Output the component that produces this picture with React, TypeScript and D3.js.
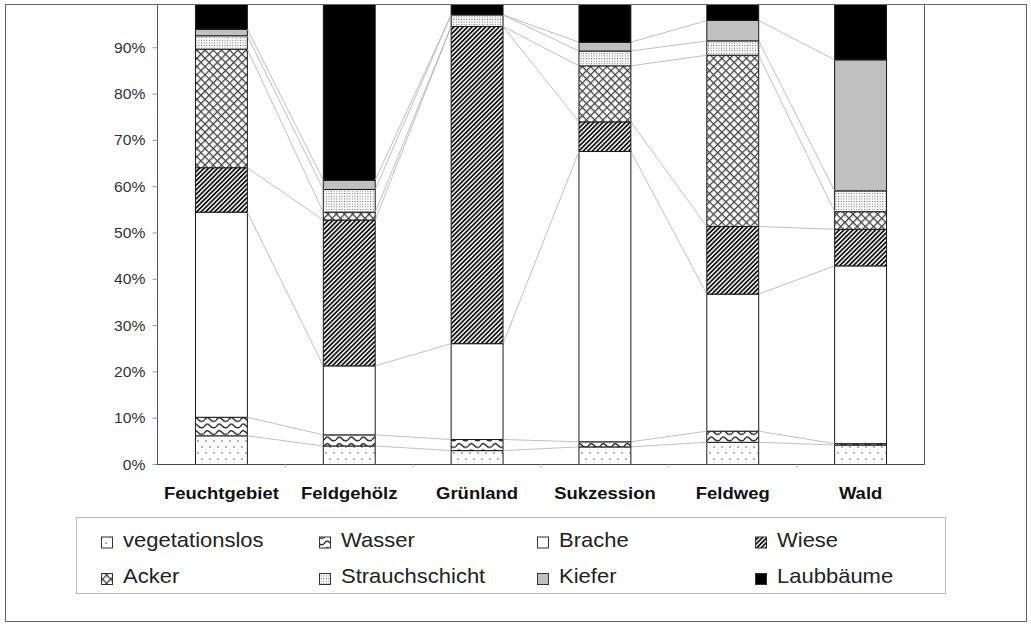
import React from 'react';
import * as d3 from 'd3';

// Land-use shares per habitat type (percent, each column sums to 100)
const categories = ['Feuchtgebiet', 'Feldgehölz', 'Grünland', 'Sukzession', 'Feldweg', 'Wald'];
const seriesNames = ['vegetationslos', 'Wasser', 'Brache', 'Wiese', 'Acker', 'Strauchschicht', 'Kiefer', 'Laubbäume'];
const vegetationslos = [6.2, 4.0, 3.0, 3.8, 4.8, 4.2];
const wasser = [4.0, 2.4, 2.4, 1.1, 2.4, 0.3];
const brache = [44.3, 14.9, 20.7, 62.7, 29.6, 38.4];
const wiese = [9.6, 31.5, 68.5, 6.4, 14.6, 7.9];
const acker = [25.6, 1.7, 0, 12.1, 37.0, 3.8];
const strauchschicht = [2.9, 4.9, 2.5, 3.2, 3.1, 4.5];
const kiefer = [1.4, 2.0, 0, 1.9, 4.4, 28.3];
const laubbaeume = [6.0, 38.6, 2.9, 8.8, 4.1, 12.6];
const yTicks = [0, 10, 20, 30, 40, 50, 60, 70, 80, 90];

const seriesValues = [vegetationslos, wasser, brache, wiese, acker, strauchschicht, kiefer, laubbaeume];
const fills = [
  'url(#p-veg)', 'url(#p-wasser)', '#ffffff', 'url(#p-wiese)',
  'url(#p-acker)', 'url(#p-strauch)', '#c0c0c0', '#000000',
];

const W = 1031;
const H = 625;
const plot = { left: 157.5, right: 924.5, top: 5, bottom: 464.5 };
const SX = 1.12; // horizontal text stretch

export default function App() {
  const rows = categories.map((c, i) => {
    const r: Record<string, number | string> = { cat: c };
    seriesNames.forEach((s, j) => { r[s] = seriesValues[j][i]; });
    return r;
  });
  const stacked = d3.stack<any>().keys(seriesNames)(rows);

  const x = d3.scaleBand().domain(categories).range([plot.left, plot.right]).paddingInner(0.594).paddingOuter(0.297);
  const y = d3.scaleLinear().domain([0, 100]).range([plot.bottom, 1.5]);
  const bw = x.bandwidth();
  const step = x.step();

  const legendCols = [101, 319, 537, 755];
  const legendRows = [546.5, 583];

  return (
    <svg width={W} height={H} style={{ position: 'absolute', left: 0, top: 0, display: 'block', background: '#fff' }}
      fontFamily="'Liberation Sans', Arial, sans-serif">
      <defs>
        <pattern id="p-veg" patternUnits="userSpaceOnUse" width={8} height={12}>
          <rect width={8} height={12} fill="#fff" />
          <circle cx={2} cy={3} r={0.75} fill="#444" />
          <circle cx={6} cy={9} r={0.75} fill="#444" />
        </pattern>
        <pattern id="p-wasser" patternUnits="userSpaceOnUse" width={12} height={6.5}>
          <rect width={12} height={6.5} fill="#fff" />
          <path d="M0,4.5 C2,0.8 4,0.8 6,3.2 C8,5.8 10,5.8 12,4.5" fill="none" stroke="#222" strokeWidth={1.4} />
        </pattern>
        <pattern id="p-wiese" patternUnits="userSpaceOnUse" width={3.2} height={3.2} patternTransform="rotate(45)">
          <rect width={3.2} height={3.2} fill="#fff" />
          <rect width={1.75} height={3.2} fill="#111" />
        </pattern>
        <pattern id="p-acker" patternUnits="userSpaceOnUse" width={5.8} height={5.8} patternTransform="rotate(45)">
          <rect width={5.8} height={5.8} fill="#fff" />
          <rect width={1.3} height={5.8} fill="#444" />
          <rect width={5.8} height={1.3} fill="#444" />
        </pattern>
        <pattern id="p-strauch" patternUnits="userSpaceOnUse" width={2.6} height={2.6}>
          <rect width={2.6} height={2.6} fill="#fff" />
          <rect x={0.8} y={0.8} width={1.1} height={1.1} fill="#777" />
        </pattern>
        <clipPath id="plot-clip">
          <rect x={plot.left} y={plot.top} width={plot.right - plot.left} height={plot.bottom - plot.top + 1} />
        </clipPath>
      </defs>

      {/* outer frame */}
      <rect x={5.5} y={4.5} width={1021} height={617} fill="none" stroke="#666" strokeWidth={1} />

      {/* plot area border (right side) */}
      <line x1={plot.right} x2={plot.right} y1={plot.top} y2={plot.bottom} stroke="#555" strokeWidth={1} />

      <g clipPath="url(#plot-clip)">
        {/* stacked bars */}
        {stacked.map((layer, si) => (
          <g key={seriesNames[si]}>
            {layer.map((d, ci) => {
              const y0 = y(d[0]);
              const y1 = y(d[1]);
              if (Math.abs(y0 - y1) < 0.01) return null;
              return (
                <rect key={ci} x={x(categories[ci])!} y={y1} width={bw} height={y0 - y1}
                  fill={fills[si]} stroke="#1a1a1a" strokeWidth={1} />
              );
            })}
          </g>
        ))}
        {/* series lines between neighbouring columns */}
        {stacked.map((layer, si) => (
          <g key={'sl' + si}>
            {layer.slice(0, -1).map((d, ci) => (
              <line key={ci}
                x1={x(categories[ci])! + bw} y1={y(d[1])}
                x2={x(categories[ci + 1])!} y2={y(layer[ci + 1][1])}
                stroke="#b0b0b0" strokeWidth={0.8} />
            ))}
          </g>
        ))}
      </g>

      {/* top edge of the plot area */}
      <line x1={plot.left} x2={plot.right} y1={4.5} y2={4.5} stroke="#666" strokeWidth={1} />

      {/* value axis */}
      <line x1={plot.left} x2={plot.left} y1={plot.top} y2={plot.bottom} stroke="#555" strokeWidth={1} />
      {yTicks.map(t => (
        <g key={t}>
          <line x1={plot.left - 5} x2={plot.left} y1={y(t)} y2={y(t)} stroke="#999" strokeWidth={1} />
          <text transform={`translate(145.5,${y(t) + 5}) scale(${SX},1)`} textAnchor="end" fontSize={14} fill="#333">
            {t}%
          </text>
        </g>
      ))}

      {/* category axis */}
      <line x1={plot.left} x2={plot.right} y1={plot.bottom} y2={plot.bottom} stroke="#444" strokeWidth={1.2} />
      {categories.slice(1).map(c => (
        <line key={c} x1={x(c)! - (step - bw) / 2} x2={x(c)! - (step - bw) / 2}
          y1={plot.bottom} y2={plot.bottom + 3} stroke="#bbb" strokeWidth={1} />
      ))}
      {categories.map(c => (
        <text key={c} transform={`translate(${x(c)! + bw / 2},${499}) scale(${SX},1)`} textAnchor="middle"
          fontSize={16.5} fontWeight="bold" fill="#111">
          {c}
        </text>
      ))}

      {/* legend */}
      <rect x={76.5} y={517.5} width={869} height={76} fill="#fff" stroke="#bbb" strokeWidth={1} />
      {seriesNames.map((s, i) => {
        const cx = legendCols[i % 4];
        const by = legendRows[Math.floor(i / 4)];
        return (
          <g key={s}>
            <rect x={cx + 0.5} y={by - 9.5} width={11} height={11} fill={fills[i]} stroke="#333" strokeWidth={1} />
            <text transform={`translate(${cx + 22},${by}) scale(1.1,1)`} fontSize={20} fill="#222">{s}</text>
          </g>
        );
      })}
    </svg>
  );
}
